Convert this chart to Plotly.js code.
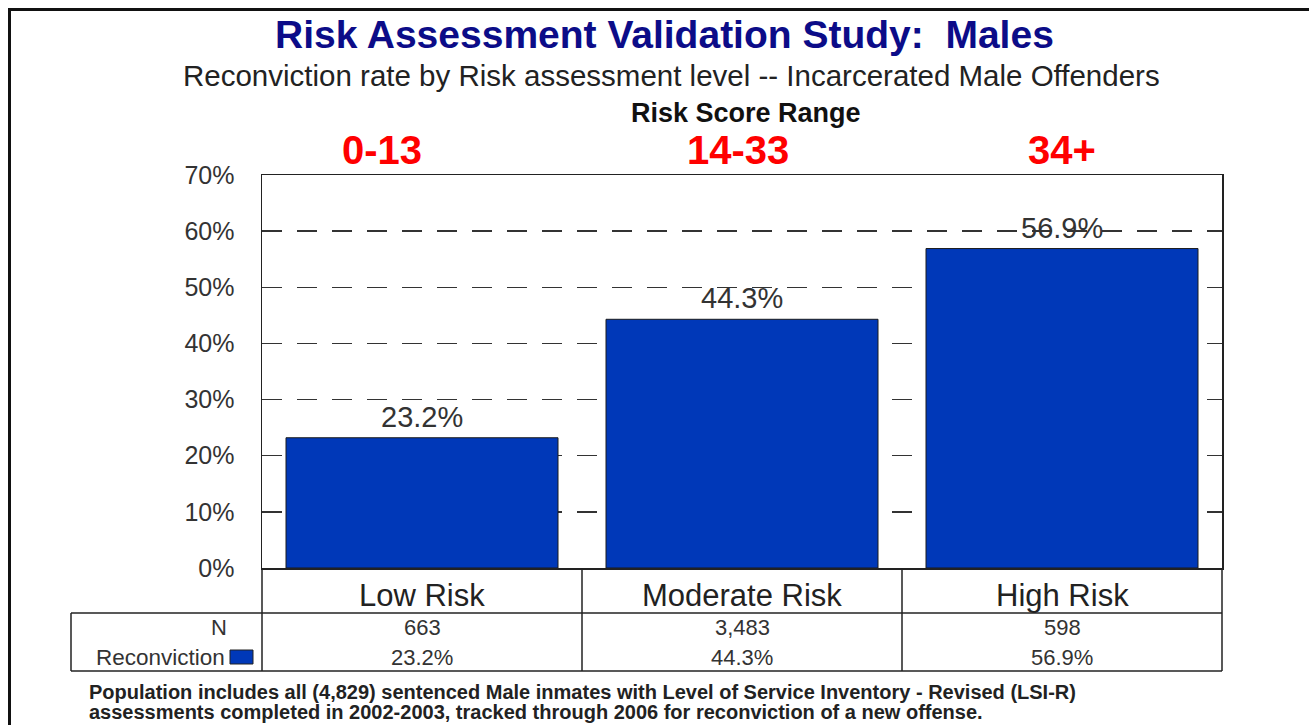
<!DOCTYPE html>
<html>
<head>
<meta charset="utf-8">
<script src="https://cdn.plot.ly/plotly-3.0.1.min.js"></script>
<style>
html,body{margin:0;padding:0;background:#fff;}
#chart{width:1309px;height:725px;}
</style>
</head>
<body>
<div id="chart"></div>
<script>
// ---- data ----
const categories = ["Low Risk", "Moderate Risk", "High Risk"];
const scoreRanges = ["0-13", "14-33", "34+"];
const reconvictionRate = [23.2, 44.3, 56.9];
const nCounts = ["663", "3,483", "598"];
const rateLabels = ["23.2%", "44.3%", "56.9%"];
const yTickValues = [0, 10, 20, 30, 40, 50, 60, 70];
const titleText = "Risk Assessment Validation Study:\u00a0 Males";
const subtitleText = "Reconviction rate by Risk assessment level -- Incarcerated Male Offenders";
const rangeHeader = "Risk Score Range";
const footnoteLines = [
  "Population includes all (4,829) sentenced Male inmates with Level of Service Inventory - Revised (LSI-R)",
  "assessments completed in 2002-2003, tracked through 2006 for reconviction of a new offense."
];

// ---- geometry helpers (pixel -> paper) ----
const W = 1309, H = 725;
const L = 262, R = 1222, T = 175, B = 568;
const px = x => (x - L) / (R - L);
const py = y => (B - y) / (B - T);

const FONT = "Liberation Sans, Arial, sans-serif";
const barColor = "#0038b8";

const trace = {
  type: "bar",
  x: categories,
  y: reconvictionRate,
  width: 0.85,
  marker: { color: barColor, line: { color: "#1a1a1a", width: 1 } },
  hoverinfo: "x+y",
  showlegend: false
};

const annotations = [];
const shapes = [];

// titles
annotations.push({ xref: "paper", yref: "paper", x: px(664), y: py(35), text: "<b>" + titleText + "</b>",
  showarrow: false, xanchor: "center", yanchor: "middle", font: { family: FONT, size: 39, color: "#0c0c88" } });
annotations.push({ xref: "paper", yref: "paper", x: px(671), y: py(76), text: subtitleText,
  showarrow: false, xanchor: "center", yanchor: "middle", font: { family: FONT, size: 29.5, color: "#222" } });
annotations.push({ xref: "paper", yref: "paper", x: px(746), y: py(113), text: "<b>" + rangeHeader + "</b>",
  showarrow: false, xanchor: "center", yanchor: "middle", font: { family: FONT, size: 27, color: "#111" } });

const rangeShift = [-40, -4, 0];
categories.forEach((c, i) => {
  // red score ranges
  annotations.push({ xref: "x", yref: "paper", x: c, y: py(150), xshift: rangeShift[i], text: "<b>" + scoreRanges[i] + "</b>",
    showarrow: false, xanchor: "center", yanchor: "middle", font: { family: FONT, size: 40, color: "#ff0000" } });
  // value labels above bars
  annotations.push({ xref: "x", yref: "y", x: c, y: reconvictionRate[i], yshift: 21, text: rateLabels[i],
    showarrow: false, xanchor: "center", yanchor: "middle", font: { family: FONT, size: 29, color: "#333" } });
  // category row
  annotations.push({ xref: "x", yref: "paper", x: c, y: py(595), text: c,
    showarrow: false, xanchor: "center", yanchor: "middle", font: { family: FONT, size: 31, color: "#222" } });
  // N row
  annotations.push({ xref: "x", yref: "paper", x: c, y: py(627), text: nCounts[i],
    showarrow: false, xanchor: "center", yanchor: "middle", font: { family: FONT, size: 22, color: "#333" } });
  // Reconviction row
  annotations.push({ xref: "x", yref: "paper", x: c, y: py(657), text: rateLabels[i],
    showarrow: false, xanchor: "center", yanchor: "middle", font: { family: FONT, size: 22, color: "#333" } });
});

// row headers
annotations.push({ xref: "paper", yref: "paper", x: px(229), y: py(627), text: "N",
  showarrow: false, xanchor: "right", yanchor: "middle", font: { family: FONT, size: 22, color: "#333" } });
annotations.push({ xref: "paper", yref: "paper", x: px(227), y: py(657), text: "Reconviction",
  showarrow: false, xanchor: "right", yanchor: "middle", font: { family: FONT, size: 22.5, color: "#333" } });

// footnote
annotations.push({ xref: "paper", yref: "paper", x: px(87), y: py(692), text: "<b>" + footnoteLines[0] + "</b>",
  showarrow: false, xanchor: "left", yanchor: "middle", font: { family: FONT, size: 20, color: "#222" } });
annotations.push({ xref: "paper", yref: "paper", x: px(87), y: py(712), text: "<b>" + footnoteLines[1] + "</b>",
  showarrow: false, xanchor: "left", yanchor: "middle", font: { family: FONT, size: 20, color: "#222" } });

// legend swatch
shapes.push({ type: "rect", xref: "paper", yref: "paper", x0: px(230), x1: px(253), y0: py(650), y1: py(664),
  fillcolor: barColor, line: { color: "#222", width: 1 } });

const lineStyle = { color: "#222", width: 1.5 };
// table lines
shapes.push({ type: "line", xref: "paper", yref: "paper", x0: px(71), x1: 1, y0: py(613), y1: py(613), line: lineStyle });
shapes.push({ type: "line", xref: "paper", yref: "paper", x0: px(71), x1: 1, y0: py(671), y1: py(671), line: lineStyle });
shapes.push({ type: "line", xref: "paper", yref: "paper", x0: px(71), x1: px(71), y0: py(613), y1: py(671), line: lineStyle });
shapes.push({ type: "line", xref: "paper", yref: "paper", x0: 0, x1: 0, y0: 0, y1: py(671), line: lineStyle });
shapes.push({ type: "line", xref: "paper", yref: "paper", x0: 1, x1: 1, y0: 0, y1: py(671), line: lineStyle });
[0.5, 1.5].forEach(b => {
  shapes.push({ type: "line", xref: "x", yref: "paper", x0: b, x1: b, y0: 0, y1: py(671), line: lineStyle });
});

// page border (top and left)
shapes.push({ type: "line", xref: "paper", yref: "paper", x0: px(8), x1: px(1320), y0: py(9.5), y1: py(9.5), line: { color: "#111", width: 3 } });
shapes.push({ type: "line", xref: "paper", yref: "paper", x0: px(9.5), x1: px(9.5), y0: py(8), y1: py(740), line: { color: "#111", width: 3 } });

const layout = {
  width: W, height: H,
  margin: { l: L, r: W - R, t: T, b: H - B, pad: 0 },
  paper_bgcolor: "#fff",
  plot_bgcolor: "#fff",
  font: { family: FONT, color: "#333" },
  showlegend: false,
  bargap: 0.15,
  xaxis: {
    type: "category",
    range: [-0.5, 2.5],
    showticklabels: false,
    ticks: "",
    showgrid: false,
    showline: true, linecolor: "#222", linewidth: 1.5, mirror: true,
    zeroline: false,
    fixedrange: true
  },
  yaxis: {
    range: [0, 70],
    tickvals: yTickValues,
    ticktext: yTickValues.map(v => v + "%"),
    tickfont: { family: FONT, size: 25, color: "#333" },
    ticks: "",
    ticklabelstandoff: 21,
    showgrid: true,
    gridcolor: "#333",
    gridwidth: 1.5,
    griddash: "20px,15px",
    showline: true, linecolor: "#222", linewidth: 1.5, mirror: true,
    zeroline: false,
    fixedrange: true
  },
  annotations: annotations,
  shapes: shapes
};

Plotly.newPlot("chart", [trace], layout, { displayModeBar: false, staticPlot: true });
</script>
</body>
</html>
